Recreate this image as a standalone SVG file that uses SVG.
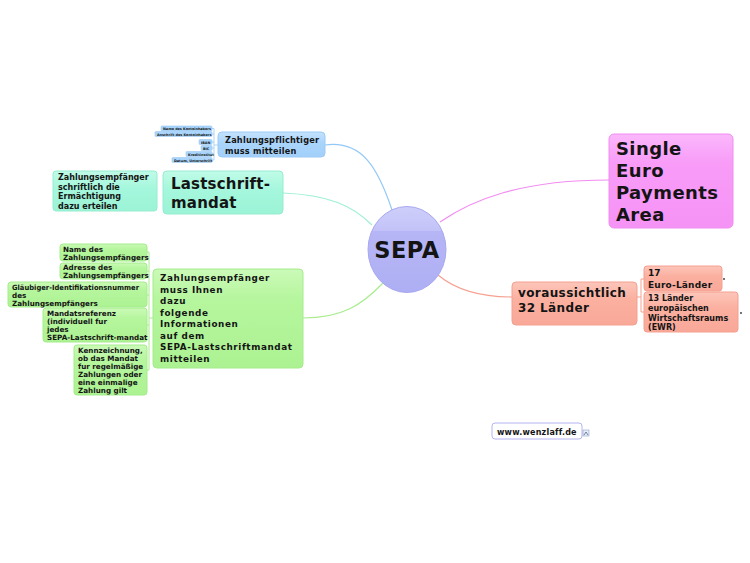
<svg xmlns="http://www.w3.org/2000/svg" width="750" height="563" viewBox="0 0 750 563">
<defs>
<linearGradient id="gBlue" x1="0" y1="0" x2="0" y2="1"><stop offset="0" stop-color="#c4e2fd"/><stop offset="0.45" stop-color="#a9d4fb"/><stop offset="1" stop-color="#a2d0fa"/></linearGradient>
<linearGradient id="gMint" x1="0" y1="0" x2="0" y2="1"><stop offset="0" stop-color="#c0fbe8"/><stop offset="0.45" stop-color="#a4f7dc"/><stop offset="1" stop-color="#9cf3d6"/></linearGradient>
<linearGradient id="gGreen" x1="0" y1="0" x2="0" y2="1"><stop offset="0" stop-color="#cbfab8"/><stop offset="0.3" stop-color="#b6f69e"/><stop offset="1" stop-color="#acf292"/></linearGradient>
<linearGradient id="gPink" x1="0" y1="0" x2="0" y2="1"><stop offset="0" stop-color="#fbb8fb"/><stop offset="0.3" stop-color="#f89cf8"/><stop offset="1" stop-color="#f693f6"/></linearGradient>
<linearGradient id="gSalmon" x1="0" y1="0" x2="0" y2="1"><stop offset="0" stop-color="#fcc6ba"/><stop offset="0.4" stop-color="#fbb0a0"/><stop offset="1" stop-color="#f9a898"/></linearGradient>
<linearGradient id="gSepa" x1="0" y1="0" x2="0" y2="1"><stop offset="0" stop-color="#cfcffb"/><stop offset="0.28" stop-color="#c2c2f8"/><stop offset="0.29" stop-color="#b6b6f6"/><stop offset="1" stop-color="#aeaef4"/></linearGradient>
<style>
text{font-family:"DejaVu Sans","Verdana",sans-serif;font-weight:bold;fill:#141414}
.blue{fill:url(#gBlue);stroke:#9ccaf4;stroke-width:1}
.mint{fill:url(#gMint);stroke:#96ecd0;stroke-width:1}
.green{fill:url(#gGreen);stroke:#a4ec8c;stroke-width:1}
.pink{fill:url(#gPink);stroke:#f08cf0;stroke-width:1}
.salmon{fill:url(#gSalmon);stroke:#f4a090;stroke-width:1}
.tiny{fill:#a9d4fb;stroke:#9ccaf4;stroke-width:0.6}
.t3{font-size:3.4px}
.t7{font-size:7.2px}
.t8{font-size:8px}
.t9{font-size:9px}
.tb{font-size:8.2px;letter-spacing:0.2px}
.tg{font-size:8.8px;letter-spacing:0.6px}
.t12{font-size:12px;letter-spacing:0.4px}
.t15{font-size:15px;letter-spacing:0.2px}
.t18{font-size:18px;letter-spacing:0.4px}
.con{fill:none;stroke-width:1.2}
</style>
</defs>
<rect width="750" height="563" fill="#ffffff"/>

<g id="connectors">
<path class="con" stroke="#92c8f6" d="M325,145 C362,140 378,168 392,210"/>
<path class="con" stroke="#9ef0d2" d="M283,193 C328,195 352,205 372,225"/>
<path class="con" stroke="#a8ec8e" d="M303,318 C342,318 362,305 383,283"/>
<path class="con" stroke="#f28cf2" d="M609,180 C520,180 472,200 440,222"/>
<path class="con" stroke="#f6a090" d="M512,297 C482,297 456,290 438,275"/>
<path fill="none" stroke="#9ccaf4" stroke-width="0.8" d="M212,128.5 H214 V160 H212 M214,134 H212 M214,142 H212 M214,148 H212 M214,154 H212 M214,145 H218"/>
<path fill="none" stroke="#a8ec8e" stroke-width="1" d="M147,252 H149 V370 H147 M149,271 H147 M149,295 H147 M149,325 H147 M149,318 H153"/>
<path fill="none" stroke="#f4a090" stroke-width="1" d="M644,279 H641 V312 H644 M637,297 H641"/>
</g>

<g id="sepa">
<ellipse cx="407" cy="249.5" rx="39" ry="43" fill="url(#gSepa)" stroke="#a8a8f0" stroke-width="1"/>
<text x="407" y="258" text-anchor="middle" style="font-size:22.5px;letter-spacing:0.5px">SEPA</text>
</g>

<g id="zahlungspflichtiger">
<rect class="blue" x="218" y="132" width="107" height="25" rx="4"/>
<text class="tb" x="225" y="143">Zahlungspflichtiger</text>
<text class="tb" x="225" y="153.5">muss mitteilen</text>
</g>
<g id="tiny1"><rect class="tiny" x="161" y="126" width="51" height="5" rx="1"/><text class="t3" x="163" y="130">Name des Kontoinhabers</text></g>
<g id="tiny2"><rect class="tiny" x="155" y="131.5" width="57" height="5" rx="1"/><text class="t3" x="157" y="135.5">Anschrift des Kontoinhabers</text></g>
<g id="tiny3"><rect class="tiny" x="199" y="139.5" width="13" height="5" rx="1"/><text class="t3" x="201" y="143.5">IBAN</text></g>
<g id="tiny4"><rect class="tiny" x="201" y="145.5" width="11" height="5" rx="1"/><text class="t3" x="203" y="149.5">BIC</text></g>
<g id="tiny5"><rect class="tiny" x="186" y="151.5" width="26" height="5" rx="1"/><text class="t3" x="188" y="155.5">Kreditinstitut</text></g>
<g id="tiny6"><rect class="tiny" x="172" y="157.5" width="40" height="5" rx="1"/><text class="t3" x="174" y="161.5">Datum, Unterschrift</text></g>

<g id="lastschrift">
<rect class="mint" x="163" y="171" width="120" height="43" rx="4"/>
<text class="t15" x="171" y="189">Lastschrift-</text>
<text class="t15" x="171" y="208">mandat</text>
</g>
<g id="ermaechtigung">
<rect class="mint" x="53" y="171" width="104" height="40" rx="3"/>
<text class="t8" x="58" y="180">Zahlungsempfänger</text>
<text class="t8" x="58" y="189.5">schriftlich die</text>
<text class="t8" x="58" y="199">Ermächtigung</text>
<text class="t8" x="58" y="208.5">dazu erteilen</text>
</g>

<g id="informationen">
<rect class="green" x="153" y="269" width="150" height="99" rx="4"/>
<text class="tg" x="160" y="281">Zahlungsempfänger</text>
<text class="tg" x="160" y="292.5">muss Ihnen</text>
<text class="tg" x="160" y="304">dazu</text>
<text class="tg" x="160" y="315.5">folgende</text>
<text class="tg" x="160" y="327">Informationen</text>
<text class="tg" x="160" y="338.5">auf dem</text>
<text class="tg" x="160" y="350">SEPA-Lastschriftmandat</text>
<text class="tg" x="160" y="361.5">mitteilen</text>
</g>
<g id="name">
<rect class="green" x="60" y="244" width="87" height="17" rx="3"/>
<text class="t7" x="63" y="251.5">Name des</text>
<text class="t7" x="63" y="259.5">Zahlungsempfängers</text>
</g>
<g id="adresse">
<rect class="green" x="60" y="263" width="87" height="16" rx="3"/>
<text class="t7" x="63" y="270">Adresse des</text>
<text class="t7" x="63" y="278">Zahlungsempfängers</text>
</g>
<g id="glaeubiger">
<rect class="green" x="8" y="282" width="139" height="25" rx="3"/>
<text class="t7" x="12" y="290" textLength="127" lengthAdjust="spacingAndGlyphs">Gläubiger-Identifikationsnummer</text>
<text class="t7" x="12" y="298">des</text>
<text class="t7" x="12" y="306">Zahlungsempfängers</text>
</g>
<g id="mandatsreferenz">
<rect class="green" x="43" y="308" width="104" height="34" rx="3"/>
<text class="t7" x="47" y="316">Mandatsreferenz</text>
<text class="t7" x="47" y="324">(individuell fur</text>
<text class="t7" x="47" y="332">jedes</text>
<text class="t7" x="47" y="340">SEPA-Lastschrift-mandat</text>
</g>
<g id="kennzeichnung">
<rect class="green" x="74" y="345" width="73" height="50" rx="3"/>
<text class="t7" x="78" y="352.5">Kennzeichnung,</text>
<text class="t7" x="78" y="360.5">ob das Mandat</text>
<text class="t7" x="78" y="368.5">fur regelmäßige</text>
<text class="t7" x="78" y="377">Zahlungen oder</text>
<text class="t7" x="78" y="385">eine einmalige</text>
<text class="t7" x="78" y="393">Zahlung gilt</text>
</g>

<g id="single-euro">
<rect class="pink" x="609" y="134" width="124" height="94" rx="5"/>
<text class="t18" x="616" y="155">Single</text>
<text class="t18" x="616" y="177">Euro</text>
<text class="t18" x="616" y="199">Payments</text>
<text class="t18" x="616" y="221">Area</text>
</g>

<g id="laender">
<rect class="salmon" x="512" y="282" width="125" height="43" rx="4"/>
<text class="t12" x="518" y="297">voraussichtlich</text>
<text class="t12" x="518" y="312">32 Länder</text>
</g>
<g id="euro-laender">
<rect class="salmon" x="644" y="266" width="78" height="25" rx="3"/>
<text class="t9" x="648" y="276">17</text>
<text class="t9" x="648" y="288" style="letter-spacing:0.2px">Euro-Länder</text>
<circle cx="724" cy="279" r="0.9" fill="#333"/>
</g>
<g id="ewr">
<rect class="salmon" x="644" y="292" width="94" height="40" rx="3"/>
<text class="t8" x="648" y="301">13 Länder</text>
<text class="t8" x="648" y="311">europäischen</text>
<text class="t8" x="648" y="321">Wirtschaftsraums</text>
<text class="t8" x="648" y="330">(EWR)</text>
<circle cx="741" cy="313" r="0.9" fill="#333"/>
</g>

<g id="wenzlaff">
<rect x="492" y="423" width="90" height="16" rx="3" fill="#ffffff" stroke="#b4b4f0" stroke-width="1"/>
<text x="497" y="434.5" style="font-size:8px;letter-spacing:0.2px">www.wenzlaff.de</text>
<rect x="583" y="430" width="6" height="6" fill="#e8eef8" stroke="#7890c0" stroke-width="0.5"/>
<path d="M584,435 L586,432 L588,435" fill="none" stroke="#405080" stroke-width="0.7"/>
</g>
</svg>
